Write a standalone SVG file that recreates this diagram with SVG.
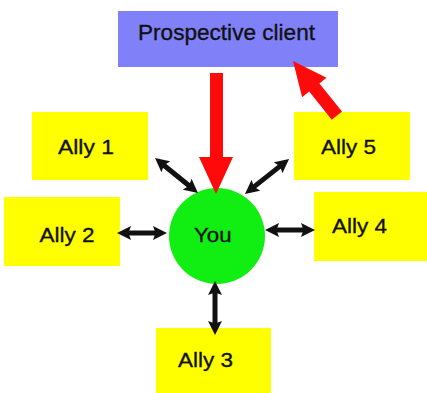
<svg xmlns="http://www.w3.org/2000/svg" width="427" height="393" viewBox="0 0 427 393">
<defs>
<style>
.ally{fill:#ffff00}
.lbl{font-family:"Liberation Sans",Arial,sans-serif;font-size:21px;fill:#111;stroke:#111;stroke-width:0.35}
.big{font-size:22.5px}
.conn{stroke:#111;stroke-width:5;fill:none;marker-start:url(#ah);marker-end:url(#ah)}
.red{fill:#ff0a0a}
</style>
<marker id="ah" viewBox="0 0 14 14" markerWidth="14" markerHeight="14" refX="5" refY="7" orient="auto-start-reverse" markerUnits="userSpaceOnUse">
<path d="M0,0 L14,7 L0,14 L2.5,7 z" fill="#111"/>
</marker>
</defs>
<rect width="427" height="393" fill="#ffffff"/>
<g id="client">
<rect x="118" y="11" width="220" height="56" fill="#8080f8"/>
<text class="lbl big" x="138" y="40" textLength="177" lengthAdjust="spacingAndGlyphs">Prospective client</text>
</g>
<g id="ally1">
<rect class="ally" x="32" y="112" width="116" height="68"/>
<text class="lbl" x="58" y="154" textLength="56" lengthAdjust="spacingAndGlyphs">Ally 1</text>
</g>
<g id="ally5">
<rect class="ally" x="294" y="112" width="116" height="68"/>
<text class="lbl" x="321" y="153.5" textLength="55" lengthAdjust="spacingAndGlyphs">Ally 5</text>
</g>
<g id="ally2">
<rect class="ally" x="4" y="197" width="116" height="69"/>
<text class="lbl" x="39.5" y="242.3" textLength="55" lengthAdjust="spacingAndGlyphs">Ally 2</text>
</g>
<g id="ally4">
<rect class="ally" x="314" y="192" width="113" height="69"/>
<text class="lbl" x="332" y="232.7" textLength="55" lengthAdjust="spacingAndGlyphs">Ally 4</text>
</g>
<g id="ally3">
<rect class="ally" x="156" y="328" width="115" height="65"/>
<text class="lbl" x="178" y="366.7" textLength="55" lengthAdjust="spacingAndGlyphs">Ally 3</text>
</g>
<g id="you">
<circle cx="217" cy="236" r="48" fill="#11ee11"/>
<text class="lbl" x="194" y="242.3" textLength="37.5" lengthAdjust="spacingAndGlyphs">You</text>
</g>
<g id="connectors">
<line class="conn" x1="162" y1="163.7" x2="191" y2="187.3"/>
<line class="conn" x1="282" y1="164.6" x2="252" y2="188.4"/>
<line class="conn" x1="126" y1="233" x2="158" y2="233"/>
<line class="conn" x1="274" y1="230" x2="306" y2="230"/>
<line class="conn" x1="215" y1="290" x2="215" y2="326"/>
<polygon class="red" points="210,73 223,73 223,157 233,157 216,194 199,157 210,157"/>
<polygon class="red" points="293,61 326.5,77.7 319.4,83.4 342,111.5 331.8,119.7 309.2,91.6 302.1,97.3"/>
</g>
</svg>
